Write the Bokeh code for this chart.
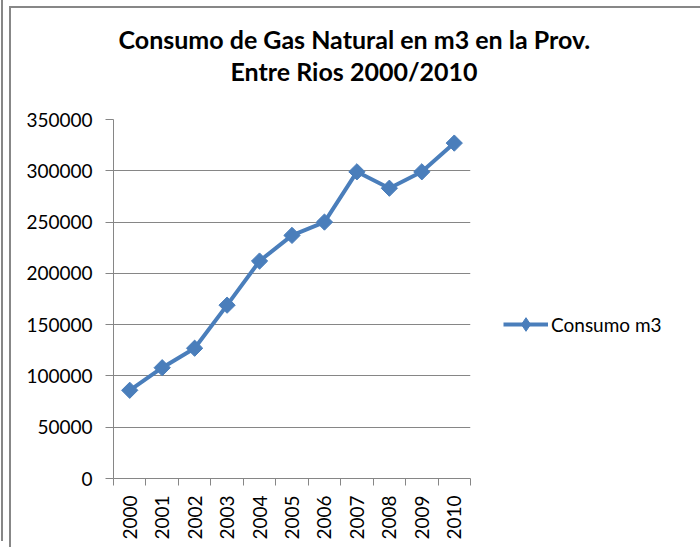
import math
from bokeh.plotting import figure
from bokeh.models import (Range1d, FixedTicker, Legend, LegendItem, Title,
                          BasicTickFormatter)
from bokeh.embed import file_html
from bokeh.resources import INLINE

# ---- data ----
years = ["2000", "2001", "2002", "2003", "2004", "2005",
         "2006", "2007", "2008", "2009", "2010"]
consumo = [86000, 108000, 127000, 169000, 212000, 237000,
           250000, 299000, 283000, 299000, 327000]
y_ticks = [0, 50000, 100000, 150000, 200000, 250000, 300000, 350000]
title_lines = ["Consumo de Gas Natural en m3 en la Prov.", "Entre Rios 2000/2010"]
series_name = "Consumo m3"

BLUE = "#4A7EBB"
GRAY = "#868686"
FONT = "Lato"

n = len(years)
xs = [i + 0.5 for i in range(n)]

frame_css = ("inset 2px 2px 0 #878787, inset -2px 0 0 #878787, "
             "-6px -6px 0 0 white, -8px -6px 0 0 #878787")

p = figure(frame_width=357, frame_height=359, output_backend="svg",
           toolbar_location=None,
           x_range=Range1d(0, n), y_range=Range1d(y_ticks[0], y_ticks[-1]),
           min_border_left=104, min_border_right=224,
           min_border_top=113, min_border_bottom=69,
           margin=(6, 0, 0, 9),
           styles={"box-shadow": frame_css})
p.title = None
p.outline_line_color = None
p.background_fill_color = "white"
p.border_fill_alpha = 0

# x axis: labels at category centres, tick marks at boundaries
p.xaxis.ticker = FixedTicker(ticks=xs, minor_ticks=list(range(n + 1)))
p.xaxis.major_label_overrides = {x: y for x, y in zip(xs, years)}
p.xaxis.major_label_orientation = math.pi / 2
p.xaxis.major_tick_out = 0
p.xaxis.major_tick_in = 0
p.xaxis.minor_tick_out = 7
p.xaxis.minor_tick_in = 0
p.xaxis.minor_tick_line_color = GRAY
p.xaxis.axis_line_color = GRAY
p.xaxis.major_label_standoff = 10
p.xaxis.major_label_text_font = FONT
p.xaxis.major_label_text_font_size = "19px"
p.xaxis.major_label_text_color = "black"

p.yaxis.ticker = FixedTicker(ticks=y_ticks, minor_ticks=[])
p.yaxis.formatter = BasicTickFormatter(use_scientific=False)
p.yaxis.major_tick_out = 8
p.yaxis.major_tick_in = 0
p.yaxis.major_tick_line_color = GRAY
p.yaxis.axis_line_color = GRAY
p.yaxis.major_label_standoff = 13
p.yaxis.major_label_text_font = FONT
p.yaxis.major_label_text_font_size = "19px"
p.yaxis.major_label_text_color = "black"

p.xgrid.visible = False
p.ygrid.grid_line_color = GRAY
p.ygrid.grid_line_width = 1

line_r = p.line(xs, consumo, line_width=4, color=BLUE)
p.scatter(xs, consumo, marker="square", size=11.5, angle=math.pi / 4,
          color=BLUE)
# legend-only diamond (NaN y so it draws nothing in the plot)
leg_marker = p.scatter([xs[0]], [float("nan")], marker="diamond", size=14,
                       color=BLUE)

legend = Legend(items=[LegendItem(label=series_name,
                                  renderers=[line_r, leg_marker])],
                location=(33, 137), glyph_width=45, glyph_height=34,
                label_height=34, label_standoff=3, padding=0, margin=0,
                border_line_color=None, background_fill_alpha=0,
                label_text_font=FONT, label_text_font_size="19px",
                label_text_color="black")
p.add_layout(legend, "right")

# title: spacer nearest the plot, then line 2, then line 1
p.add_layout(Title(text=" ", text_font_size="10px", standoff=21), "above")
for txt, off in [(title_lines[1], 117), (title_lines[0], 5)]:
    p.add_layout(Title(text=txt, align="left", offset=off, standoff=0,
                       text_font=FONT, text_font_style="bold",
                       text_font_size="25px", text_color="black"), "above")

open("out.html", "w").write(file_html(p, INLINE))
